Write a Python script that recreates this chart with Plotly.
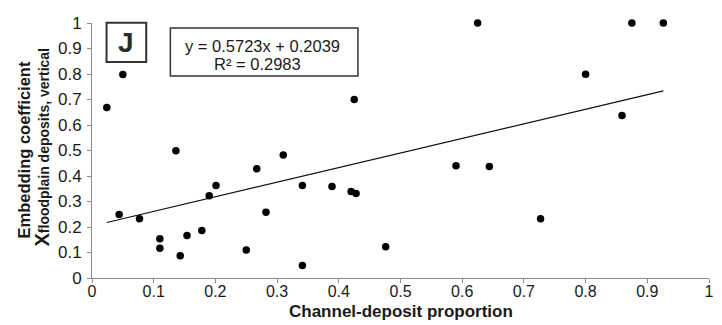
import plotly.graph_objects as go

# Channel-deposit proportion vs. embedding coefficient
channel_prop = [0.024, 0.050, 0.044, 0.077, 0.110, 0.110, 0.136, 0.143, 0.154, 0.178,
                0.190, 0.201, 0.250, 0.267, 0.282, 0.310, 0.341, 0.341, 0.389, 0.420,
                0.428, 0.476, 0.590, 0.644, 0.727, 0.425, 0.625, 0.800, 0.875, 0.926,
                0.859]
embed_coef = [0.669, 0.798, 0.249, 0.232, 0.154, 0.117, 0.499, 0.087, 0.167, 0.186,
              0.323, 0.363, 0.110, 0.428, 0.258, 0.482, 0.363, 0.049, 0.359, 0.339,
              0.331, 0.123, 0.440, 0.437, 0.232, 0.700, 1.000, 0.799, 1.000, 1.000,
              0.637]

# Linear fit as reported
slope = 0.5723
intercept = 0.2039
r_squared = 0.2983
panel_label = "J"

tick_vals = [0, 0.1, 0.2, 0.3, 0.4, 0.5, 0.6, 0.7, 0.8, 0.9, 1]
tick_text = ["0", "0.1", "0.2", "0.3", "0.4", "0.5", "0.6", "0.7", "0.8", "0.9", "1"]

x_fit = [min(channel_prop), max(channel_prop)]
y_fit = [slope * v + intercept for v in x_fit]

FONT = "Liberation Sans, Arial, sans-serif"
TEXT = "#1a1a1a"

fig = go.Figure()
fig.add_trace(go.Scatter(
    x=x_fit, y=y_fit, mode="lines",
    line=dict(color="#111111", width=1.2),
    hoverinfo="skip", showlegend=False,
))
fig.add_trace(go.Scatter(
    x=channel_prop, y=embed_coef, mode="markers",
    marker=dict(color="#000000", size=7.5),
    cliponaxis=False, showlegend=False,
))

axis_common = dict(
    range=[0, 1], showgrid=False, zeroline=False,
    showline=True, linecolor="#8a8a8a", linewidth=1,
    ticks="outside", ticklen=4, tickcolor="#8a8a8a", tickwidth=1,
    tickvals=tick_vals, ticktext=tick_text,
)

fig.update_layout(
    width=722, height=325,
    margin=dict(l=92, r=8, t=23, b=46.5),
    paper_bgcolor="white", plot_bgcolor="white",
    xaxis=dict(**axis_common, ticklabelstandoff=-5,
               tickfont=dict(family=FONT, size=16, color=TEXT)),
    yaxis=dict(**axis_common, ticklabelstandoff=2,
               tickfont=dict(family=FONT, size=17, color=TEXT)),
    font=dict(family=FONT),
)

# x-axis title
fig.add_annotation(
    x=0.5, y=0, xref="paper", yref="paper", yshift=-33,
    text="<b>Channel-deposit proportion</b>", showarrow=False,
    font=dict(family=FONT, size=17, color=TEXT),
    xanchor="center", yanchor="middle",
)
# y-axis title, two lines
fig.add_annotation(
    x=0, y=0.5, xref="paper", yref="paper", xshift=-69,
    text="<b>Embedding coefficient</b>", showarrow=False, textangle=-90,
    font=dict(family=FONT, size=16.5, color=TEXT),
    xanchor="center", yanchor="middle",
)
fig.add_annotation(
    x=0, y=0.5, xref="paper", yref="paper", xshift=-51, yshift=3,
    text="<b>X</b><b><span style='font-size:14px'>floodplain deposits, vertical</span></b>",
    showarrow=False, textangle=-90,
    font=dict(family=FONT, size=20, color=TEXT),
    xanchor="center", yanchor="middle",
)

# Panel label box
fig.add_shape(
    type="rect", xref="paper", yref="paper",
    x0=0.0236, x1=0.0879, y0=0.847, y1=1.001,
    line=dict(color="#333333", width=2), fillcolor="white", layer="above",
)
fig.add_annotation(
    x=0.0557, y=0.924, xref="paper", yref="paper",
    text=f"<b>{panel_label}</b>", showarrow=False,
    font=dict(family=FONT, size=28, color="#2a2a2a"),
    xanchor="center", yanchor="middle",
)

# Regression equation box
fig.add_shape(
    type="rect", xref="paper", yref="paper",
    x0=0.127, x1=0.431, y0=0.7926, y1=0.980,
    line=dict(color="#333333", width=1.5), fillcolor="white", layer="above",
)
fig.add_annotation(
    x=0.277, y=0.910, xref="paper", yref="paper",
    text=f"y = {slope:.4f}x + {intercept:.4f}",
    showarrow=False, font=dict(family=FONT, size=16.5, color=TEXT),
    xanchor="center", yanchor="middle",
)
fig.add_annotation(
    x=0.2685, y=0.839, xref="paper", yref="paper",
    text=f"R² = {r_squared:.4f}",
    showarrow=False, font=dict(family=FONT, size=16.5, color=TEXT),
    xanchor="center", yanchor="middle",
)

fig.write_html("out.html")
